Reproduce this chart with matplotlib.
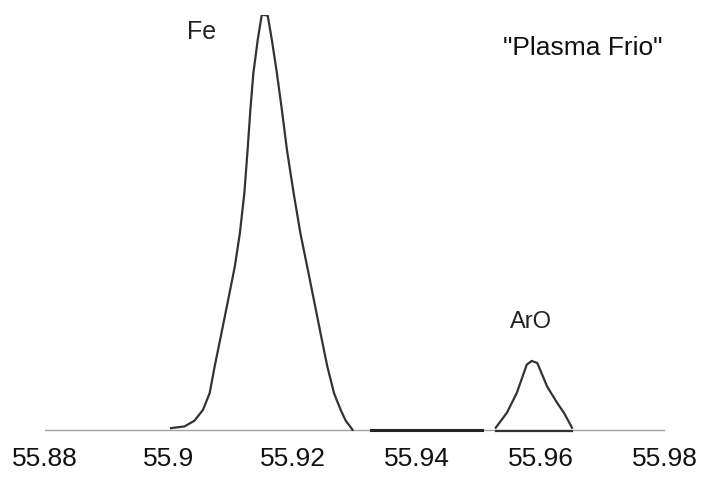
import matplotlib.pyplot as plt

plt.rcParams['font.family'] = ['Liberation Sans', 'DejaVu Sans']

# masa (uma) y señal relativa
fe_masa = [55.90033, 55.90249, 55.90411, 55.90548, 55.90655, 55.90737, 55.90846,
           55.90954, 55.91062, 55.91143, 55.91215, 55.91268, 55.91312, 55.91361,
           55.91431, 55.91496, 55.91545, 55.91593, 55.91659, 55.91740, 55.91821,
           55.91902, 55.92011, 55.92119, 55.92228, 55.92337, 55.92444, 55.92553,
           55.92662, 55.92769, 55.92850, 55.92932, 55.92959]
fe_senal = [0.4, 0.8, 2.2, 4.8, 8.8, 15.3, 23.3,
            31.3, 39.4, 47.4, 57.0, 67.5, 77.1, 86.0,
            94.0, 100.0, 100.0, 99.8, 94.0, 86.0, 77.1,
            67.5, 57.0, 47.4, 39.4, 31.3, 23.3, 15.3,
            8.8, 4.8, 2.2, 0.6, 0.0]

aro_masa = [55.9527, 55.9545, 55.9561, 55.9577, 55.9585, 55.9594, 55.9610,
            55.9626, 55.9637, 55.9650]
aro_senal = [0.5, 4.1, 8.9, 15.7, 16.6, 16.1, 10.4, 6.5, 4.1, 0.5]

base_masa = [55.880, 55.980]
base_senal = [0.0, 0.0]
tramo_oscuro = [55.9325, 55.9505]

ticks = [55.88, 55.9, 55.92, 55.94, 55.96, 55.98]
tick_labels = ['55.88', '55.9', '55.92', '55.94', '55.96', '55.98']

fig = plt.figure(figsize=(7.11, 4.79), dpi=100)
ax = fig.add_axes([45/711, 43/479, 620/711, 421/479])

ax.plot(base_masa, base_senal, color='#a0a0a0', lw=1.0)
ax.plot(tramo_oscuro, [0, 0], color='#222222', lw=2.2)
ax.plot(fe_masa, fe_senal, color='#333333', lw=1.6, solid_joinstyle='round')
ax.plot(aro_masa, aro_senal, color='#333333', lw=1.6, solid_joinstyle='round')
ax.plot([aro_masa[0], aro_masa[-1]], [-0.4, -0.4], color='#333333', lw=1.6)

ax.text(55.9053, 96, 'Fe', fontsize=18, ha='center', va='center', color='#222222')
ax.text(55.9583, 26, 'ArO', fontsize=17, ha='center', va='center', color='#222222')
ax.text(55.9667, 92, '"Plasma Frio"', fontsize=19, ha='center', va='center',
        color='#111111')

ax.set_xlim(55.88, 55.98)
ax.set_ylim(-1.5, 100)
ax.set_xticks(ticks)
ax.set_xticklabels(tick_labels, fontsize=19, color='#111111')
ax.tick_params(axis='x', length=0, pad=8)
ax.set_yticks([])
for s in ax.spines.values():
    s.set_visible(False)

fig.savefig('out.png', dpi=100)
